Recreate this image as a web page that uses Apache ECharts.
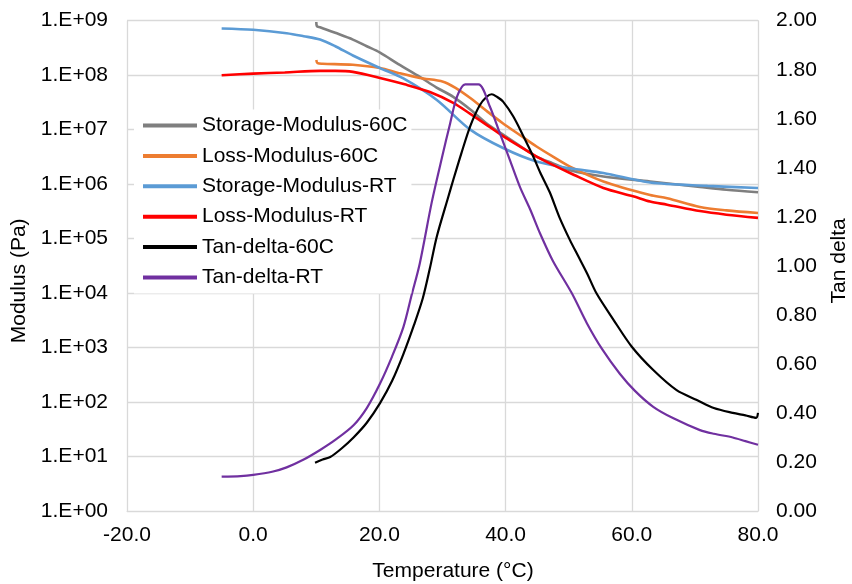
<!DOCTYPE html>
<html>
<head>
<meta charset="utf-8">
<script src="https://cdn.jsdelivr.net/npm/echarts@6/dist/echarts.min.js"></script>
<style>
html,body{margin:0;padding:0;background:#fff;}
#chart{width:852px;height:584px;}
</style>
</head>
<body>
<div id="chart"></div>
<script>
// ---- Data ----
const seriesNames = ['Storage-Modulus-60C','Loss-Modulus-60C','Storage-Modulus-RT','Loss-Modulus-RT','Tan-delta-60C','Tan-delta-RT'];

const storage60C_T = [10, 10.1, 10.6, 13, 15.8, 18, 20.1, 23, 26.4, 29, 31.7, 34.4, 37, 39.6, 42.3, 44.9, 47.5, 50.2, 55.5, 62.9, 70.8, 75, 80];
const storage60C_V = [9.5e8, 7.9e8, 7.6e8, 6.0e8, 4.5e8, 3.4e8, 2.6e8, 1.6e8, 9.3e7, 6.0e7, 4.0e7, 2.35e7, 1.3e7, 8.1e6, 5.0e6, 3.2e6, 2.4e6, 1.8e6, 1.38e6, 1.12e6, 8.9e5, 7.9e5, 7.1e5];

const loss60C_T = [10, 10.2, 11, 15.8, 20.1, 23, 26.4, 30.1, 32, 34.4, 37, 39.6, 42.3, 44.9, 47.5, 50.2, 55.5, 62.9, 65.6, 70.8, 75, 80];
const loss60C_V = [1.9e8, 1.66e8, 1.62e8, 1.55e8, 1.35e8, 1.1e8, 8.9e7, 7.6e7, 5.9e7, 3.8e7, 2.2e7, 1.3e7, 7.9e6, 4.9e6, 3.2e6, 2.1e6, 1.12e6, 6.3e5, 5.5e5, 3.8e5, 3.3e5, 2.95e5];

const storageRT_T = [-5, 0, 5.3, 8, 10.6, 13, 15.8, 20.1, 23.8, 29.1, 34.4, 39.6, 44.9, 50.2, 55.5, 62.9, 72, 80];
const storageRT_V = [7.2e8, 6.8e8, 5.9e8, 5.2e8, 4.5e8, 3.4e8, 2.3e8, 1.35e8, 8.7e7, 3.5e7, 1.0e7, 4.6e6, 2.6e6, 1.95e6, 1.6e6, 1.07e6, 9.3e5, 8.5e5];

const lossRT_T = [-5, 0, 5, 10.6, 13, 15.8, 20.1, 24, 28, 31.7, 34.4, 37.1, 39.6, 42.3, 44.9, 47.5, 50.2, 55.5, 60.2, 62.9, 65.6, 70.8, 75, 80];
const lossRT_V = [1.0e8, 1.07e8, 1.12e8, 1.2e8, 1.2e8, 1.15e8, 8.9e7, 6.8e7, 4.9e7, 3.1e7, 1.95e7, 1.2e7, 7.6e6, 4.9e6, 3.2e6, 2.25e6, 1.6e6, 8.5e5, 6.0e5, 4.8e5, 4.2e5, 3.2e5, 2.75e5, 2.4e5];

const tan60C_T = [9.8, 11, 12.2, 14, 15.9, 18, 20.1, 22, 23.8, 25.5, 26.9, 28, 29.1, 30.9, 31.7, 33, 34.4, 35.9, 37, 37.8, 38.6, 39.6, 41.2, 42.8, 44.4, 45.5, 47, 48.5, 50.2, 51.5, 52.9, 54.4, 57.1, 60, 63.4, 67.1, 70.3, 73, 76, 78, 79.7, 80];
const tan60C_V = [0.197, 0.21, 0.22, 0.255, 0.30, 0.36, 0.44, 0.53, 0.64, 0.76, 0.87, 0.99, 1.12, 1.28, 1.35, 1.46, 1.57, 1.655, 1.69, 1.70, 1.69, 1.67, 1.61, 1.53, 1.445, 1.38, 1.30, 1.20, 1.105, 1.04, 0.97, 0.888, 0.78, 0.67, 0.575, 0.493, 0.453, 0.42, 0.40, 0.39, 0.38, 0.40];

const tanRT_T = [-5, -2, 0, 3, 5.3, 8, 10.6, 13, 15.9, 18, 20.1, 22, 23.8, 25.1, 26.4, 28.3, 29.9, 31.2, 32.3, 33.6, 35.7, 37.5, 39.1, 40.7, 42.3, 43.9, 45.5, 47.5, 50.5, 52.9, 55.3, 58.1, 60.5, 63.4, 66.6, 70.8, 73, 76, 78, 80];
const tanRT_V = [0.14, 0.142, 0.147, 0.16, 0.178, 0.21, 0.249, 0.29, 0.35, 0.42, 0.52, 0.63, 0.75, 0.88, 1.01, 1.26, 1.44, 1.58, 1.69, 1.74, 1.74, 1.65, 1.54, 1.43, 1.32, 1.23, 1.13, 1.02, 0.888, 0.765, 0.66, 0.56, 0.49, 0.425, 0.378, 0.33, 0.315, 0.30, 0.285, 0.27];

const xTicks = [-20, 0, 20, 40, 60, 80];

// ---- Build ----
const zip = (a, b) => a.map((t, i) => [t, b[i]]);
const FONT = 'Liberation Sans, Arial, sans-serif';
const FS = 21;
const colors = ['#7f7f7f', '#ed7d31', '#5b9bd5', '#ff0000', '#000000', '#7030a0'];
const datasets = [
  zip(storage60C_T, storage60C_V),
  zip(loss60C_T, loss60C_V),
  zip(storageRT_T, storageRT_V),
  zip(lossRT_T, lossRT_V),
  zip(tan60C_T, tan60C_V),
  zip(tanRT_T, tanRT_V)
];

const series = seriesNames.map((name, i) => ({
  name: name,
  type: 'line',
  yAxisIndex: i < 4 ? 0 : 1,
  data: datasets[i],
  symbol: 'none',
  smooth: 0.3,
  lineStyle: { color: colors[i], width: i < 4 ? 2.6 : 2.2 },
  itemStyle: { color: colors[i] },
  z: 2 + i
}));

const chart = echarts.init(document.getElementById('chart'), null, { renderer: 'canvas' });
chart.setOption({
  animation: false,
  backgroundColor: '#ffffff',
  textStyle: { fontFamily: FONT },
  grid: { left: 127, right: 94, top: 20.7, bottom: 73, containLabel: false, outerBoundsMode: 'none' },
  legend: {
    orient: 'vertical',
    left: 134,
    top: 109.5,
    padding: [4, 4, 4, 9],
    backgroundColor: '#ffffff',
    icon: 'rect',
    itemWidth: 54,
    itemHeight: 4,
    itemGap: 6.4,
    z: 10,
    textStyle: { fontFamily: FONT, fontSize: FS, color: '#000', lineHeight: 24 },
    data: seriesNames
  },
  xAxis: {
    type: 'value',
    min: -20, max: 80, interval: 20,
    name: 'Temperature (°C)',
    nameLocation: 'middle',
    nameGap: 50,
    nameTextStyle: { fontFamily: FONT, fontSize: FS, color: '#000', padding: [0, 0, 0, 21] },
    axisLine: { show: true, lineStyle: { color: '#d9d9d9', width: 1 } },
    axisTick: { show: false },
    axisLabel: { fontFamily: FONT, fontSize: FS, color: '#000', margin: 14, formatter: v => v.toFixed(1) },
    splitLine: { show: true, lineStyle: { color: '#d9d9d9', width: 1.3 } }
  },
  yAxis: [
    {
      type: 'log',
      logBase: 10,
      min: 1, max: 1e9,
      interval: 1,
      name: 'Modulus (Pa)',
      nameLocation: 'middle',
      nameGap: 95,
      nameTextStyle: { fontFamily: FONT, fontSize: FS, color: '#000', padding: [0, 30, 0, 0] },
      axisLine: { show: true, lineStyle: { color: '#d9d9d9', width: 1 } },
      axisTick: { show: false },
      axisLabel: {
        fontFamily: FONT, fontSize: FS, color: '#000', margin: 19,
        formatter: v => '1.E+' + String(Math.round(Math.log10(v))).padStart(2, '0')
      },
      splitLine: { show: true, lineStyle: { color: '#d9d9d9', width: 1.3 } }
    },
    {
      type: 'value',
      min: 0, max: 2, interval: 0.2,
      position: 'right',
      name: 'Tan delta',
      nameLocation: 'middle',
      nameGap: 71,
      nameRotate: 90,
      nameTextStyle: { fontFamily: FONT, fontSize: FS, color: '#000', padding: [0, 0, 0, 10] },
      axisLine: { show: true, lineStyle: { color: '#d9d9d9', width: 1 } },
      axisTick: { show: false },
      axisLabel: { fontFamily: FONT, fontSize: FS, color: '#000', margin: 18, formatter: v => v.toFixed(2) },
      splitLine: { show: false }
    }
  ],
  series: series
});
</script>
</body>
</html>
